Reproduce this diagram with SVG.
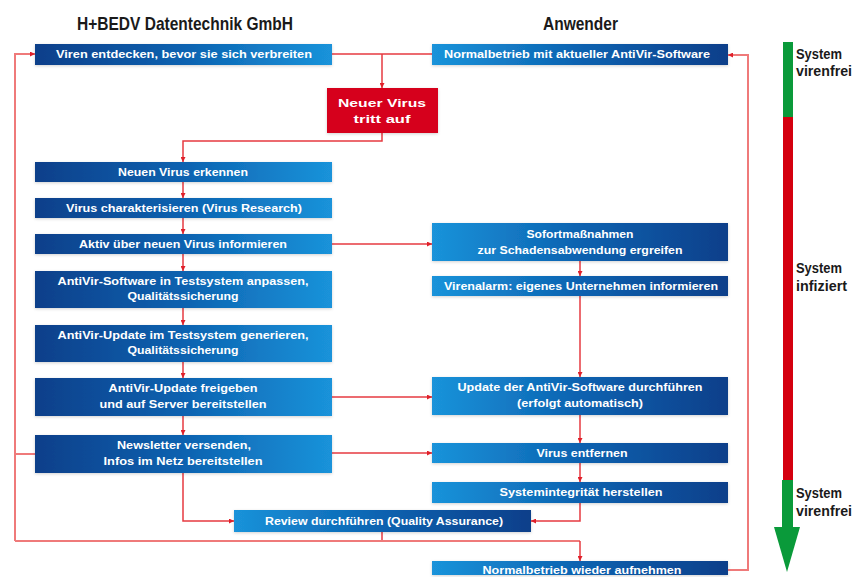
<svg xmlns="http://www.w3.org/2000/svg" width="863" height="577" viewBox="0 0 863 577">
<defs>
<linearGradient id="gL" x1="0" y1="0" x2="1" y2="0">
<stop offset="0" stop-color="#0b3f8a"/><stop offset="0.5" stop-color="#0c62b0"/><stop offset="1" stop-color="#1a93da"/>
</linearGradient>
<linearGradient id="gR" x1="0" y1="0" x2="1" y2="0">
<stop offset="0" stop-color="#1a93da"/><stop offset="0.5" stop-color="#0c62b0"/><stop offset="1" stop-color="#0b3f8a"/>
</linearGradient>
<filter id="sh" x="-5%" y="-30%" width="110%" height="160%">
<feDropShadow dx="0" dy="1" stdDeviation="1.5" flood-color="#000" flood-opacity="0.18"/>
</filter>
<marker id="ah" viewBox="0 0 10 10" refX="10" refY="5" markerWidth="5" markerHeight="5" orient="auto" markerUnits="userSpaceOnUse">
<path d="M0,0 L10,5 L0,10 z" fill="#e0202a"/>
</marker>
</defs>
<style>
.bl{fill:url(#gL);filter:url(#sh)}
.br{fill:url(#gR);filter:url(#sh)}
.t{font-family:"Liberation Sans",Arial,sans-serif;font-weight:bold;font-size:10px;fill:#fff;text-anchor:middle}
.h{font-family:"Liberation Sans",Arial,sans-serif;font-weight:bold;fill:#1a1a1a}
.s{font-family:"Liberation Sans",Arial,sans-serif;font-weight:bold;font-size:15px;fill:#1a1a1a}
.c{fill:none;stroke:#e63a40;stroke-width:1.5}
.cl{fill:none;stroke:#ef7a7a;stroke-width:2}
.a{marker-end:url(#ah)}
</style>
<rect width="863" height="577" fill="#fff"/>

<text class="h" x="77" y="30" font-size="19" textLength="216" lengthAdjust="spacingAndGlyphs">H+BEDV Datentechnik GmbH</text>
<text class="h" x="543" y="30" font-size="19" textLength="75" lengthAdjust="spacingAndGlyphs">Anwender</text>

<g id="connectors">
<path class="c" d="M332,54 H432"/>
<path class="c a" d="M382,54 V88"/>
<path class="c a" d="M382,133 V141 H183 V162"/>
<path class="c a" d="M183,182 V198"/>
<path class="c a" d="M183,218 V234"/>
<path class="c a" d="M183,254 V271"/>
<path class="c a" d="M183,308 V325"/>
<path class="c a" d="M183,362 V378"/>
<path class="c a" d="M183,416 V435"/>
<path class="c a" d="M332,244 H432"/>
<path class="c a" d="M580,261 V276"/>
<path class="c a" d="M580,296 V377"/>
<path class="c a" d="M332,397 H432"/>
<path class="c a" d="M580,415 V443"/>
<path class="c a" d="M332,453 H432"/>
<path class="c a" d="M580,463 V482"/>
<path class="c a" d="M580,503 V521 H531"/>
<path class="c a" d="M183,473 V521 H234"/>
<path class="cl" d="M35,454 H15"/>
<path class="c" d="M382,532 V541"/>
<path class="cl" d="M15,541 H580"/>
<path class="c a" d="M580,541 V561"/>
<path class="cl a" d="M15,541 V54 H35"/>
<path class="cl a" d="M728,570 H748 V55 H728"/>
</g>

<g id="n-viren-entdecken"><rect class="bl" x="35" y="44" width="297" height="21"/><text class="t" x="184" y="58" textLength="256" lengthAdjust="spacingAndGlyphs">Viren entdecken, bevor sie sich verbreiten</text></g>
<g id="n-normalbetrieb"><rect class="br" x="432" y="44" width="296" height="21"/><text class="t" x="577" y="58" textLength="266" lengthAdjust="spacingAndGlyphs">Normalbetrieb mit aktueller AntiVir-Software</text></g>
<g id="n-neuer-virus"><rect x="327" y="88" width="111" height="45" fill="#d6001c" filter="url(#sh)"/>
<text class="t" x="382" y="107" font-size="13" textLength="88" lengthAdjust="spacingAndGlyphs">Neuer Virus</text>
<text class="t" x="382" y="123" font-size="13" textLength="57" lengthAdjust="spacingAndGlyphs">tritt auf</text></g>

<g id="n-erkennen"><rect class="bl" x="35" y="162" width="297" height="20"/><text class="t" x="183" y="176" textLength="130" lengthAdjust="spacingAndGlyphs">Neuen Virus erkennen</text></g>
<g id="n-charakterisieren"><rect class="bl" x="35" y="198" width="297" height="20"/><text class="t" x="184" y="212" textLength="236" lengthAdjust="spacingAndGlyphs">Virus charakterisieren (Virus Research)</text></g>
<g id="n-aktiv"><rect class="bl" x="35" y="234" width="297" height="20"/><text class="t" x="183" y="248" textLength="208" lengthAdjust="spacingAndGlyphs">Aktiv über neuen Virus informieren</text></g>
<g id="n-anpassen"><rect class="bl" x="35" y="271" width="297" height="37"/>
<text class="t" x="183" y="285" textLength="251" lengthAdjust="spacingAndGlyphs">AntiVir-Software in Testsystem anpassen,</text>
<text class="t" x="183" y="300" textLength="111" lengthAdjust="spacingAndGlyphs">Qualitätssicherung</text></g>
<g id="n-generieren"><rect class="bl" x="35" y="325" width="297" height="37"/>
<text class="t" x="183" y="339" textLength="251" lengthAdjust="spacingAndGlyphs">AntiVir-Update im Testsystem generieren,</text>
<text class="t" x="183" y="354" textLength="111" lengthAdjust="spacingAndGlyphs">Qualitätssicherung</text></g>
<g id="n-freigeben"><rect class="bl" x="35" y="378" width="297" height="38"/>
<text class="t" x="183" y="392" textLength="149" lengthAdjust="spacingAndGlyphs">AntiVir-Update freigeben</text>
<text class="t" x="183" y="408" textLength="167" lengthAdjust="spacingAndGlyphs">und auf Server bereitstellen</text></g>
<g id="n-newsletter"><rect class="bl" x="35" y="435" width="297" height="38"/>
<text class="t" x="184" y="449" textLength="134" lengthAdjust="spacingAndGlyphs">Newsletter versenden,</text>
<text class="t" x="183" y="465" textLength="159" lengthAdjust="spacingAndGlyphs">Infos im Netz bereitstellen</text></g>
<g id="n-review"><rect class="br" x="234" y="510" width="297" height="22"/><text class="t" x="384" y="525" textLength="238" lengthAdjust="spacingAndGlyphs">Review durchführen (Quality Assurance)</text></g>

<g id="n-sofort"><rect class="br" x="432" y="223" width="296" height="38"/>
<text class="t" x="580" y="238" textLength="107" lengthAdjust="spacingAndGlyphs">Sofortmaßnahmen</text>
<text class="t" x="580" y="254" textLength="205" lengthAdjust="spacingAndGlyphs">zur Schadensabwendung ergreifen</text></g>
<g id="n-virenalarm"><rect class="br" x="432" y="276" width="296" height="20"/><text class="t" x="581" y="290" textLength="274" lengthAdjust="spacingAndGlyphs">Virenalarm: eigenes Unternehmen informieren</text></g>
<g id="n-update"><rect class="br" x="432" y="377" width="296" height="38"/>
<text class="t" x="580" y="391" textLength="245" lengthAdjust="spacingAndGlyphs">Update der AntiVir-Software durchführen</text>
<text class="t" x="580" y="407" textLength="126" lengthAdjust="spacingAndGlyphs">(erfolgt automatisch)</text></g>
<g id="n-entfernen"><rect class="br" x="432" y="443" width="296" height="20"/><text class="t" x="582" y="457" textLength="91" lengthAdjust="spacingAndGlyphs">Virus entfernen</text></g>
<g id="n-integritaet"><rect class="br" x="432" y="482" width="296" height="21"/><text class="t" x="581" y="496" textLength="163" lengthAdjust="spacingAndGlyphs">Systemintegrität herstellen</text></g>
<g id="n-wieder"><rect class="br" x="432" y="561" width="296" height="14"/><text class="t" x="582" y="574" textLength="199" lengthAdjust="spacingAndGlyphs">Normalbetrieb wieder aufnehmen</text></g>

<g id="status-bar">
<rect x="783" y="42" width="10" height="75" fill="#0a9a3a"/>
<rect x="783" y="117" width="10" height="363" fill="#d4000f"/>
<rect x="782" y="480" width="11" height="48" fill="#0a9a3a"/>
<polygon points="774,527 800,527 787,572" fill="#0a9a3a"/>
<text class="s" x="796" y="59" textLength="46" lengthAdjust="spacingAndGlyphs">System</text>
<text class="s" x="796" y="76" textLength="56" lengthAdjust="spacingAndGlyphs">virenfrei</text>
<text class="s" x="796" y="273" textLength="46" lengthAdjust="spacingAndGlyphs">System</text>
<text class="s" x="796" y="291" textLength="51" lengthAdjust="spacingAndGlyphs">infiziert</text>
<text class="s" x="796" y="498" textLength="46" lengthAdjust="spacingAndGlyphs">System</text>
<text class="s" x="796" y="516" textLength="56" lengthAdjust="spacingAndGlyphs">virenfrei</text>
</g>
</svg>
